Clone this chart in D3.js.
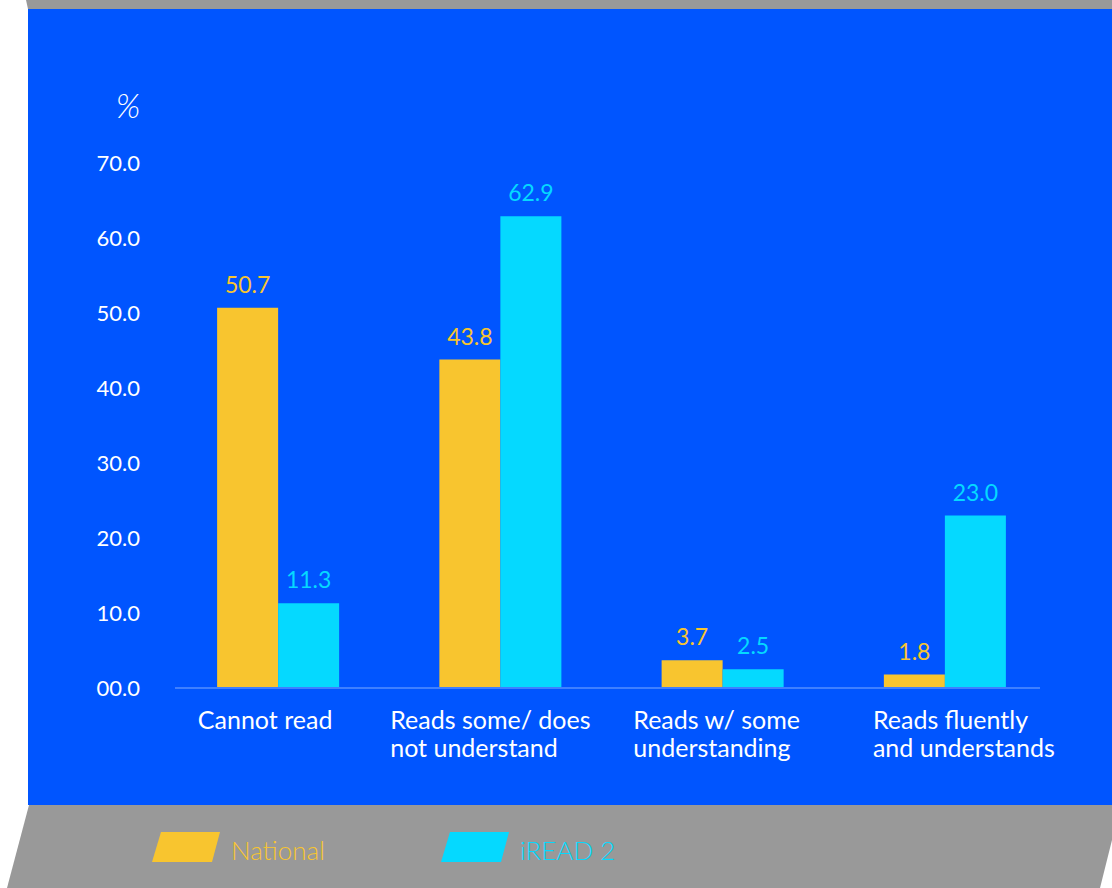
<!DOCTYPE html>
<html>
<head>
<meta charset="utf-8">
<script src="https://cdn.jsdelivr.net/npm/d3@7"></script>
<style>
  html, body { margin: 0; padding: 0; background: #ffffff; }
  svg { display: block; font-family: Lato, "Open Sans", sans-serif; font-weight: 400; }
</style>
</head>
<body>
<svg id="chart" width="1112" height="888"></svg>
<script>
// Reading levels, two groups of learners
const categories = [
  ["Cannot read"],
  ["Reads some/ does", "not understand"],
  ["Reads w/ some", "understanding"],
  ["Reads fluently", "and understands"]
];
const seriesNames = ["National", "iREAD 2"];
const nationalValues = [50.7, 43.8, 3.7, 1.8];
const ireadValues = [11.3, 62.9, 2.5, 23.0];
const tickValues = [0, 10, 20, 30, 40, 50, 60, 70];

const colors = { National: "#F8C52F", "iREAD 2": "#05D9FF" };
const BLUE = "#0055FF";
const GRAY = "#999999";

// horizontal nudges for the category label blocks
const labelShift = [-13, -10, -6, 19];

const svg = d3.select("#chart");
const W = 1112, H = 888;

// Background panels
svg.append("path")
  .attr("d", "M26,0 L1112,0 L1112,9 L28,9 Z")
  .attr("fill", GRAY);
svg.append("rect")
  .attr("x", 28).attr("y", 9).attr("width", W - 28).attr("height", 796)
  .attr("fill", BLUE);
svg.append("path")
  .attr("d", "M29,805 L1112,805 L1112,840 L1100,888 L7,888 Z")
  .attr("fill", GRAY);

// Scales
const y = d3.scaleLinear().domain([0, 70]).range([688, 163]);
const x0 = d3.scaleBand()
  .domain(d3.range(categories.length))
  .range([167, 1056])
  .paddingInner(0.451)
  .paddingOuter(0.2255);
const x1 = d3.scaleBand()
  .domain(seriesNames)
  .range([0, x0.bandwidth()]);

const rows = categories.map((c, i) => ({
  i,
  lines: c,
  vals: [
    { name: "National", v: nationalValues[i] },
    { name: "iREAD 2", v: ireadValues[i] }
  ]
}));

// Y axis tick labels
const yAxis = d3.axisLeft(y)
  .tickValues(tickValues)
  .tickSize(0)
  .tickPadding(0)
  .tickFormat(d => d === 0 ? "00.0" : d3.format(".1f")(d));
const gy = svg.append("g")
  .attr("transform", "translate(140,0)")
  .call(yAxis);
gy.select(".domain").remove();
gy.selectAll("text")
  .attr("fill", "#ffffff")
  .attr("font-size", 22)
  .attr("font-family", "Lato, sans-serif")
  .attr("font-weight", 400)
  .attr("dy", "0.35em");

// Unit label
svg.append("text")
  .attr("x", 128).attr("y", 118)
  .attr("text-anchor", "middle")
  .attr("fill", "#ffffff")
  .attr("font-size", 34)
  .attr("font-weight", 300)
  .attr("font-style", "italic")
  .text("%");

// Bars
const groups = svg.append("g").selectAll("g")
  .data(rows)
  .join("g")
  .attr("transform", d => `translate(${x0(d.i)},0)`);

groups.selectAll("rect")
  .data(d => d.vals)
  .join("rect")
  .attr("x", d => x1(d.name))
  .attr("y", d => y(d.v))
  .attr("width", x1.bandwidth())
  .attr("height", d => y(0) - y(d.v))
  .attr("fill", d => colors[d.name]);

groups.selectAll("text.val")
  .data(d => d.vals)
  .join("text")
  .attr("class", "val")
  .attr("x", d => x1(d.name) + x1.bandwidth() / 2)
  .attr("y", d => y(d.v) - 15)
  .attr("text-anchor", "middle")
  .attr("fill", d => colors[d.name])
  .attr("font-size", 23)
  .text(d => d3.format(".1f")(d.v));

// Baseline
svg.append("line")
  .attr("x1", 175).attr("x2", 1040)
  .attr("y1", y(0)).attr("y2", y(0))
  .attr("stroke", "#3F80FF")
  .attr("stroke-width", 2);

// Category labels: block centred under each group, lines left-aligned
const catG = svg.append("g").selectAll("g")
  .data(rows)
  .join("g");
catG.each(function(d) {
  const g = d3.select(this);
  const texts = g.selectAll("text")
    .data(d.lines)
    .join("text")
    .attr("y", (l, k) => 729 + k * 28)
    .attr("fill", "#ffffff")
    .attr("font-size", 25)
    .text(l => l);
  let maxW = 0;
  texts.each(function() { maxW = Math.max(maxW, this.getComputedTextLength()); });
  const cx = x0(d.i) + x0.bandwidth() / 2 + labelShift[d.i];
  texts.attr("x", cx - maxW / 2);
});

// Legend
const legendX = [152, 441];
const legend = svg.append("g").selectAll("g")
  .data(seriesNames)
  .join("g")
  .attr("transform", (d, i) => `translate(${legendX[i]},832)`);
legend.append("path")
  .attr("d", "M9,0 L68,0 L60,30 L0,30 Z")
  .attr("fill", d => colors[d]);
legend.append("text")
  .attr("x", 79).attr("y", 28)
  .attr("fill", d => colors[d])
  .attr("font-size", 26)
  .attr("font-weight", 300)
  .text(d => d);
</script>
</body>
</html>
